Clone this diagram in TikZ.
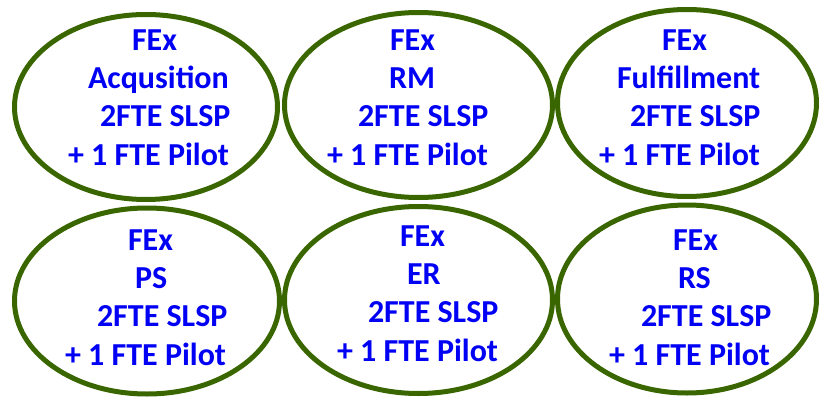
\documentclass[tikz,border=0pt]{standalone}
\usepackage{fontspec}
\setmainfont{Carlito}
\usetikzlibrary{shapes.geometric}
\definecolor{ringgreen}{RGB}{58,102,0}
\definecolor{txtblue}{RGB}{0,0,245}
\tikzset{
  ring/.style={draw=ringgreen, line width=5pt, ellipse, inner sep=0pt, outer sep=0pt},
  lbl/.style={text=txtblue, font=\bfseries\fontsize{32pt}{38.3pt}\selectfont, align=left, inner sep=0pt, outer sep=0pt, anchor=base west}
}
\begin{document}
\begin{tikzpicture}[x=1pt,y=1pt]
\useasboundingbox (0,0) rectangle (819,397);
% ellipses (y measured upward)
\node[ring, minimum width=263pt, minimum height=185pt] (e1) at (146,290) {};
\node[ring, minimum width=268pt, minimum height=185pt] (e2) at (418.5,292) {};
\node[ring, minimum width=259pt, minimum height=187pt] (e3) at (687,294) {};
\node[ring, minimum width=265pt, minimum height=186pt] (e4) at (147,96) {};
\node[ring, minimum width=268pt, minimum height=187pt] (e5) at (418.5,97) {};
\node[ring, minimum width=259pt, minimum height=188pt] (e6) at (687,98) {};
% labels (anchor = baseline of last line)
\node[lbl] (t1) at (68,232) {\hspace*{64pt}FEx\\\hspace*{20pt}Acqusition\\\hspace*{32pt}2FTE SLSP\\+ 1 FTE Pilot};
\node[lbl] (t2) at (327,232) {\hspace*{63pt}FEx\\\hspace*{62pt}RM\\\hspace*{31pt}2FTE SLSP\\+ 1 FTE Pilot};
\node[lbl] (t3) at (599,232) {\hspace*{63pt}FEx\\\hspace*{18pt}Fulfillment\\\hspace*{31pt}2FTE SLSP\\+ 1 FTE Pilot};
\node[lbl] (t4) at (65,32) {\hspace*{63pt}FEx\\\hspace*{70pt}PS\\\hspace*{32pt}2FTE SLSP\\+ 1 FTE Pilot};
\node[lbl] (t5) at (337,36) {\hspace*{63pt}FEx\\\hspace*{70pt}ER\\\hspace*{31pt}2FTE SLSP\\+ 1 FTE Pilot};
\node[lbl] (t6) at (609,32) {\hspace*{64pt}FEx\\\hspace*{69pt}RS\\\hspace*{32pt}2FTE SLSP\\+ 1 FTE Pilot};
\end{tikzpicture}
\end{document}
